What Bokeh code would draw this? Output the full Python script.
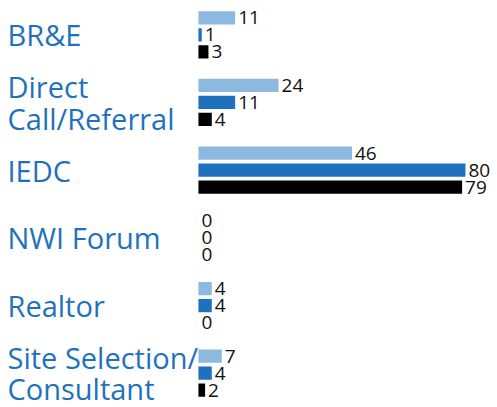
from bokeh.plotting import figure
from bokeh.models import FactorRange, ColumnDataSource, Range1d
from bokeh.core.properties import value
from bokeh.embed import file_html
from bokeh.resources import INLINE

categories = ["BR&E", "Direct Call/Referral", "IEDC", "NWI Forum", "Realtor", "Site Selection/Consultant"]
category_labels = ["BR&E", "Direct\nCall/Referral", "IEDC", "NWI Forum", "Realtor", "Site Selection/\nConsultant"]
series = ["Series 1", "Series 2", "Series 3"]
series_1 = [11, 24, 46, 0, 4, 7]
series_2 = [1, 11, 80, 0, 4, 4]
series_3 = [3, 4, 79, 0, 0, 2]
colors = ["#8DB9E0", "#1E72BD", "#000000"]

all_vals = [series_1, series_2, series_3]

factors = [(c, s) for c in reversed(categories) for s in reversed(series)]

ys, vs, cs, labels = [], [], [], []
for i, c in enumerate(categories):
    for j, s in enumerate(series):
        ys.append((c, s))
        vs.append(all_vals[j][i])
        cs.append(colors[j])
        labels.append(str(all_vals[j][i]))

src = ColumnDataSource(dict(y=ys, v=vs, color=cs, label=labels))

x_start = -59.3
p = figure(width=497, height=407,
           x_range=Range1d(x_start, 89.6),
           y_range=FactorRange(*factors, factor_padding=0.0, group_padding=0.98, range_padding=0.045),
           x_axis_location=None, y_axis_location=None,
           toolbar_location=None, output_backend="svg", min_border=0)
p.outline_line_color = None
p.grid.visible = False

p.hbar(y="y", left=0, right="v", height=0.78, fill_color="color", line_color=None, source=src)
p.text(x="v", y="y", text="label", x_offset=3, text_baseline="middle",
       text_font=value("Open Sans"), text_font_size="19px", text_color="#111111", source=src)

lab_src = ColumnDataSource(dict(x=[x_start] * len(categories),
                                y=[(c, series[1]) for c in categories],
                                text=category_labels))
p.text(x="x", y="y", text="text", source=lab_src, x_offset=7, text_align="left", text_baseline="middle",
       text_font=value("Open Sans"), text_font_size="29px", text_color=colors[1], text_line_height=0.8)

open("out.html", "w").write(file_html(p, INLINE))
